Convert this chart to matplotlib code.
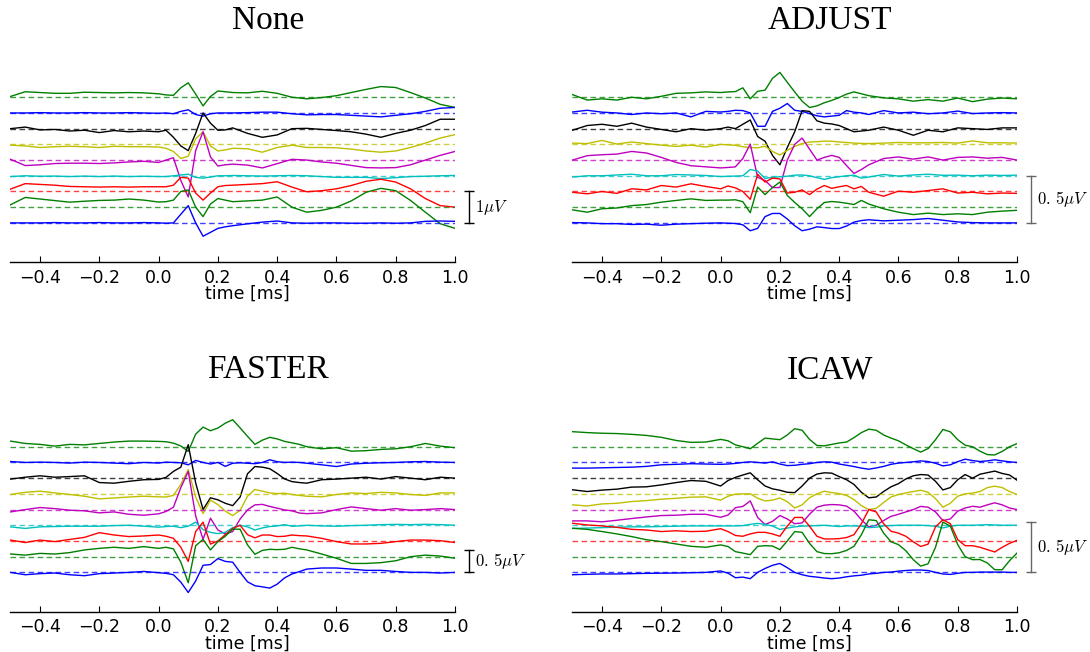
import numpy as np
import matplotlib
matplotlib.use('Agg')
import matplotlib.pyplot as plt

plt.rcParams['mathtext.fontset'] = 'cm'

# channel colours, top to bottom
colors = ['g', 'b', 'k', 'y', 'm', 'c', 'r', 'g', 'b']

# sample times [ms]
t_none = [-0.5, -0.45, -0.4, -0.35, -0.3, -0.25, -0.2, -0.15, -0.1, -0.05,
          0.0, 0.025, 0.05, 0.075, 0.1, 0.125, 0.15, 0.175, 0.2, 0.225, 0.25,
          0.3, 0.35, 0.4, 0.45, 0.5, 0.55, 0.6, 0.65, 0.7, 0.75, 0.8, 0.85, 0.9, 0.95, 1.0]

t_mid = [-0.5, -0.45, -0.4, -0.35, -0.3, -0.25, -0.2, -0.15, -0.1, -0.05,
         0.0, 0.025, 0.05, 0.075, 0.1, 0.125, 0.15, 0.175, 0.2, 0.225, 0.25,
         0.275, 0.3, 0.325, 0.35, 0.375, 0.4, 0.425, 0.45, 0.475, 0.5,
         0.55, 0.6, 0.65, 0.7, 0.75, 0.8, 0.85, 0.9, 0.95, 1.0]

t_icaw = [-0.5, -0.45, -0.4, -0.35, -0.3, -0.25, -0.2, -0.15, -0.1, -0.05,
          0.0, 0.025, 0.05, 0.075, 0.1, 0.125, 0.15, 0.175, 0.2, 0.225,
          0.25, 0.275, 0.3, 0.325, 0.35, 0.375, 0.4, 0.425, 0.45, 0.475,
          0.5, 0.525, 0.55, 0.575, 0.6, 0.625, 0.65, 0.675, 0.7, 0.725,
          0.75, 0.775, 0.8, 0.825, 0.85, 0.875, 0.9, 0.925, 0.95, 0.975, 1.0]

# averaged responses, in units of the channel spacing

# --- None ---
none_g1 = [0.05, 0.35, 0.3, 0.25, 0.25, 0.32, 0.3, 0.28, 0.3, 0.28,
           0.22, 0.15, 0.12, 0.6, 0.92, 0.2, -0.55, 0.05, 0.4, 0.35, 0.3,
           0.28, 0.38, 0.25, 0.0, -0.1, -0.02, 0.1, 0.3, 0.5, 0.68, 0.62, 0.3, -0.05, -0.45, -0.65]
none_b1 = [0.0, 0.0, 0.02, 0.0, 0.0, 0.02, 0.0, 0.0, 0.02, 0.0,
           -0.02, 0.0, -0.05, 0.1, 0.2, -0.1, -0.2, -0.05, 0.0, 0.0, 0.0,
           0.02, 0.05, 0.05, -0.05, -0.12, -0.1, -0.1, -0.15, -0.2, -0.25, -0.15, -0.05, 0.1, 0.3, 0.35]
none_k = [0.0, 0.1, -0.08, -0.05, -0.15, -0.1, -0.25, -0.12, -0.2, -0.15,
          -0.2, -0.1, -0.55, -1.1, -1.4, -0.3, 1.0, 0.35, -0.1, -0.08, 0.05,
          -0.3, -0.55, -0.4, 0.0, 0.02, -0.05, -0.12, -0.2, -0.35, -0.55, -0.3, -0.1, 0.2, 0.6, 0.6]
none_y = [-0.05, -0.1, -0.2, -0.15, -0.12, -0.15, -0.2, -0.12, -0.15, -0.15,
          -0.17, -0.25, -0.45, -0.9, -0.75, 0.35, 0.8, -0.1, -0.42, -0.35, -0.25,
          -0.28, -0.5, -0.2, -0.05, -0.2, -0.2, -0.22, -0.3, -0.42, -0.5, -0.42, -0.2, 0.08, 0.4, 0.62]
none_m = [0.05, -0.35, -0.3, -0.22, -0.2, -0.2, -0.22, -0.18, -0.12, -0.08,
          -0.15, 0.0, 0.15, -1.3, -2.35, 0.6, 1.8, 0.2, -0.38, -0.3, -0.26,
          -0.32, -0.5, -0.23, 0.05, 0.0, -0.12, -0.2, -0.34, -0.48, -0.5, -0.48, -0.3, 0.0, 0.3, 0.55]
none_c = [-0.05, 0.0, -0.03, -0.02, -0.05, -0.02, -0.05, -0.02, -0.05, -0.03,
          -0.05, -0.05, 0.0, 0.05, 0.1, -0.1, -0.15, -0.08, 0.0, 0.0, 0.02,
          0.0, -0.02, 0.0, 0.02, 0.0, -0.05, -0.1, -0.1, -0.1, -0.18, -0.12, -0.05, -0.03, 0.0, 0.02]
none_r = [0.15, 0.5, 0.45, 0.4, 0.32, 0.3, 0.28, 0.3, 0.28, 0.3,
          0.3, 0.3, 0.4, 0.9, 0.85, -0.1, -0.55, -0.1, 0.3, 0.38, 0.4,
          0.45, 0.5, 0.62, 0.28, -0.02, 0.05, 0.17, 0.38, 0.65, 0.78, 0.6, 0.17, -0.45, -0.9, -1.0]
none_g2 = [0.15, 0.62, 0.52, 0.42, 0.32, 0.38, 0.43, 0.45, 0.52, 0.45,
           0.33, 0.35, 0.45, 1.0, 1.1, 0.0, -0.6, 0.2, 0.55, 0.45, 0.35,
           0.4, 0.45, 0.65, 0.0, -0.32, -0.2, 0.0, 0.4, 0.95, 1.2, 1.05, 0.43, -0.32, -1.05, -1.35]
none_b2 = [0.0, 0.0, 0.0, 0.02, 0.0, 0.0, 0.02, 0.0, 0.0, 0.02,
           0.0, -0.02, 0.0, 0.55, 1.1, 0.0, -0.85, -0.6, -0.35, -0.25, -0.18,
           -0.06, 0.05, 0.12, 0.0, -0.02, 0.0, 0.0, -0.02, -0.02, 0.0, -0.02, 0.0, 0.1, 0.12, 0.1]

# --- ADJUST ---
adj_g1 = [0.17, -0.18, -0.1, -0.18, 0.0, -0.1, 0.06, 0.25, 0.28, 0.34,
          0.3, 0.34, 0.36, 0.6, -0.1, 0.38, 0.45, 1.2, 1.58, 0.95, 0.34,
          -0.25, -0.65, -0.55, -0.35, -0.2, -0.02, 0.2, 0.34, 0.22, 0.1,
          -0.04, -0.1, -0.25, -0.15, -0.25, -0.05, -0.28, -0.12, -0.05, -0.1]
adj_b1 = [0.06, 0.17, 0.05, 0.0, -0.1, 0.0, -0.05, 0.0, -0.25, 0.1,
          0.06, 0.1, 0.17, 0.15, 0.0, -0.85, -0.85, 0.1, 0.3, 0.6, 0.17,
          0.1, -0.04, -0.18, -0.25, -0.2, -0.15, 0.15, 0.05, 0.0, -0.1,
          0.15, 0.0, 0.05, -0.05, 0.0, 0.12, -0.04, 0.0, 0.02, 0.0]
adj_k = [-0.1, 0.2, 0.28, 0.15, 0.35, 0.1, -0.05, -0.2, 0.0, -0.1,
         0.0, 0.1, 0.0, 0.28, 0.55, -0.5, -0.8, -1.7, -2.3, -1.2, -0.2,
         1.15, 1.1, 0.5, 0.35, 0.3, 0.2, 0.0, -0.2, -0.15, -0.1,
         0.1, -0.1, -0.42, -0.1, -0.2, 0.05, 0.0, -0.05, 0.05, 0.05]
adj_y = [0.08, 0.05, 0.25, 0.02, 0.15, 0.05, -0.05, -0.13, -0.05, -0.17,
         0.0, -0.03, -0.06, -0.15, -0.21, -0.22, -0.12, -0.45, -0.68, -0.38, -0.13,
         0.05, 0.15, 0.17, 0.21, 0.2, 0.15, 0.12, 0.08, 0.06, 0.05,
         0.08, 0.12, 0.1, 0.1, 0.12, 0.08, 0.22, 0.1, 0.1, 0.08]
adj_m = [0.0, 0.28, 0.34, 0.38, 0.55, 0.45, 0.17, -0.15, -0.36, -0.43,
         -0.5, -0.47, -0.43, 0.1, 1.02, -1.1, -1.3, -1.75, -1.75, 0.0, 1.0,
         1.4, 0.7, 0.0, 0.17, 0.3, 0.17, -0.35, -0.85, -0.6, -0.3,
         0.1, 0.2, 0.06, 0.2, 0.0, 0.17, 0.2, 0.12, 0.17, 0.0]
adj_c = [-0.08, 0.0, 0.0, 0.05, 0.1, 0.0, 0.0, 0.08, 0.05, 0.02,
         -0.05, -0.03, -0.02, 0.0, 0.4, 0.3, -0.17, -0.1, -0.06, -0.03, 0.04,
         0.05, 0.0, -0.12, -0.23, -0.12, -0.06, 0.0, 0.04, -0.15, -0.08,
         0.08, -0.02, 0.05, 0.1, 0.03, 0.04, 0.0, 0.04, 0.02, 0.04]
adj_r = [-0.05, -0.15, 0.0, -0.12, 0.17, 0.1, 0.38, 0.28, 0.49, 0.32,
         0.17, 0.35, 0.23, 0.0, -0.5, 1.1, 0.6, 0.85, 0.8, -0.1, -0.05,
         0.1, -0.2, 0.15, 0.38, 0.2, 0.3, 0.38, 0.17, 0.32, -0.05,
         -0.3, 0.02, -0.05, 0.06, 0.17, -0.1, -0.05, -0.15, -0.1, -0.12]
adj_g2 = [-0.17, -0.32, -0.1, -0.05, 0.1, 0.17, 0.32, 0.43, 0.53, 0.43,
          0.45, 0.45, 0.47, 0.35, -0.35, 1.28, 0.8, 1.25, 1.6, 0.75, 0.3,
          -0.1, -0.6, -0.1, 0.3, 0.36, 0.32, 0.25, 0.17, 0.43, 0.2,
          -0.1, -0.32, -0.47, -0.38, -0.47, -0.42, -0.47, -0.32, -0.25, -0.2]
adj_b2 = [0.02, 0.0, -0.05, -0.05, -0.1, -0.08, -0.15, -0.08, -0.05, -0.02,
          0.0, -0.02, -0.04, -0.12, -0.5, -0.35, 0.4, 0.6, 0.6, 0.25, -0.18,
          -0.5, -0.4, -0.25, -0.3, -0.36, -0.36, -0.2, 0.05, 0.15, 0.2,
          0.13, 0.17, 0.21, 0.28, 0.17, 0.06, 0.02, 0.0, 0.0, 0.0]

# --- FASTER ---
fst_g1 = [0.36, 0.21, 0.15, 0.04, 0.15, 0.12, 0.21, 0.3, 0.36, 0.36,
          0.34, 0.32, 0.23, 0.05, -0.3, 0.8, 1.25, 1.02, 1.19, 1.5, 1.72,
          1.2, 0.66, 0.15, 0.42, 0.6, 0.5, 0.34, 0.25, 0.15, 0.0,
          -0.13, -0.06, -0.28, -0.25, -0.17, -0.13, 0.0, 0.21, 0.04, -0.06]
fst_b1 = [0.06, 0.0, 0.02, 0.0, -0.04, 0.02, 0.0, -0.04, -0.08, 0.0,
          -0.04, 0.02, 0.0, -0.02, -0.15, 0.13, 0.0, -0.1, 0.0, -0.25, -0.05,
          -0.02, -0.05, -0.08, 0.0, 0.17, 0.05, 0.0, 0.02, 0.0, -0.05,
          -0.15, -0.26, -0.1, -0.05, -0.02, 0.0, 0.04, 0.06, 0.02, 0.0]
fst_k = [-0.06, 0.06, 0.15, 0.06, 0.1, 0.15, -0.28, -0.32, -0.2, -0.1,
         -0.08, 0.05, 0.43, 0.7, 2.13, -0.3, -2.0, -1.25, -1.38, -1.6, -1.75,
         -1.2, 0.28, 0.74, 0.7, 0.6, 0.3, -0.05, -0.22, -0.28, -0.32,
         -0.1, -0.06, 0.0, 0.06, -0.06, 0.1, 0.0, -0.1, 0.06, 0.0]
fst_y = [-0.04, 0.1, 0.17, 0.06, -0.04, -0.15, -0.32, -0.26, -0.2, -0.15,
         -0.19, -0.2, -0.1, 0.6, 1.55, -0.2, -1.25, -0.4, -0.68, -1.1, -1.38,
         -1.05, -0.15, 0.28, 0.17, 0.06, 0.02, 0.04, -0.04, -0.1, -0.15,
         -0.19, -0.04, 0.06, 0.02, 0.1, 0.06, -0.04, -0.1, 0.06, 0.06]
fst_m = [-0.15, 0.0, 0.13, 0.06, -0.04, -0.08, -0.21, -0.15, -0.3, -0.36,
         -0.27, -0.12, 0.15, 1.4, 2.43, -0.4, -1.9, -0.55, -1.3, -1.55, -1.4,
         -0.6, -0.02, 0.3, 0.33, 0.2, 0.09, -0.02, -0.08, -0.22, -0.26,
         -0.21, 0.0, 0.17, 0.06, -0.04, 0.06, -0.04, 0.0, 0.06, 0.0]
fst_c = [-0.1, -0.2, -0.1, -0.08, -0.06, -0.06, -0.06, -0.02, 0.0, -0.06,
         -0.12, -0.08, -0.06, -0.15, -0.06, 0.2, -0.28, -0.45, -0.53, -0.45, -0.15,
         0.0, -0.1, -0.3, -0.17, -0.08, -0.04, 0.04, -0.06, -0.04, 0.0,
         -0.04, -0.06, -0.02, 0.0, 0.04, 0.06, 0.04, 0.06, 0.04, 0.0]
fst_r = [0.06, -0.1, 0.06, -0.04, 0.1, 0.23, 0.53, 0.38, 0.28, 0.32,
         0.38, 0.3, 0.17, -0.4, -1.3, 0.6, 1.2, -0.2, 0.0, 0.4, 0.8,
         1.0, 0.4, 0.2, 0.38, 0.38, 0.28, 0.3, 0.38, 0.34, 0.32,
         0.17, -0.04, -0.19, -0.19, -0.15, -0.04, 0.06, 0.06, 0.02, -0.1]
fst_g2 = [0.17, 0.1, 0.21, 0.17, 0.26, 0.43, 0.53, 0.6, 0.53, 0.64,
          0.53, 0.6, 0.5, -0.35, -1.66, 0.7, 1.1, 0.43, 0.96, 1.3, 1.75,
          1.75, 0.75, 0.15, 0.4, 0.47, 0.45, 0.47, 0.6, 0.5, 0.43,
          0.17, -0.1, -0.43, -0.43, -0.38, -0.26, 0.0, 0.1, 0.04, -0.1]
fst_b2 = [0.0, -0.15, -0.08, -0.04, -0.15, -0.21, -0.08, -0.04, 0.0, 0.06,
          -0.02, -0.06, -0.15, -0.62, -1.28, -0.55, 0.45, 0.5, 0.88, 0.7, 0.65,
          0.0, -0.6, -0.85, -0.92, -1.0, -0.75, -0.35, -0.1, 0.05, 0.21,
          0.28, 0.28, 0.21, 0.13, 0.13, 0.06, 0.0, 0.0, -0.04, 0.0]

# --- ICAW ---
icaw_g1 = [0.96, 0.9, 0.86, 0.84, 0.79, 0.72, 0.6, 0.4, 0.28, 0.3,
           0.47, 0.38, 0.12, 0.0, -0.13, 0.22, 0.55, 0.5, 0.45, 0.75,
           1.15, 1.05, 0.47, 0.08, 0.06, 0.15, 0.24, 0.3, 0.58, 0.9,
           1.12, 1.05, 0.75, 0.55, 0.38, 0.12, -0.12, -0.34, -0.12, 0.45,
           1.1, 0.95, 0.45, 0.1, 0.0, -0.28, -0.5, -0.52, -0.3, 0.0, 0.2]
icaw_b1 = [-0.36, -0.36, -0.34, -0.32, -0.3, -0.25, -0.15, -0.12, -0.08, -0.1,
           -0.12, -0.1, -0.06, 0.0, 0.04, 0.0, -0.04, 0.04, -0.1, -0.2,
           -0.18, -0.12, -0.08, 0.0, 0.04, 0.02, -0.1, -0.18, -0.26, -0.36,
           -0.43, -0.35, -0.25, -0.12, -0.04, 0.0, 0.04, 0.1, 0.06, -0.05,
           -0.22, -0.15, 0.05, 0.21, 0.12, 0.06, 0.1, 0.17, 0.1, 0.04, 0.0]
icaw_k = [-0.74, -0.85, -0.76, -0.7, -0.57, -0.55, -0.43, -0.28, -0.15, -0.2,
          -0.5, -0.15, 0.05, 0.2, 0.34, -0.1, -0.5, -0.68, -0.77, -0.9,
          -0.92, -0.5, 0.0, 0.26, 0.34, 0.32, 0.1, -0.1, -0.4, -0.9,
          -1.25, -1.2, -0.85, -0.55, -0.35, -0.05, 0.15, 0.23, 0.2, -0.2,
          -0.75, -0.6, -0.1, 0.23, 0.0, 0.25, 0.35, 0.45, 0.3, 0.2, -0.13]
icaw_y = [-0.7, -0.77, -0.64, -0.6, -0.49, -0.43, -0.34, -0.28, -0.21, -0.19,
          -0.4, -0.15, -0.02, 0.0, 0.0, -0.28, -0.45, -0.4, -0.26, -0.5,
          -0.9, -0.7, -0.25, 0.0, 0.17, 0.08, 0.02, -0.1, -0.36, -0.75,
          -1.0, -0.92, -0.55, -0.2, -0.04, 0.06, 0.15, 0.23, 0.1, -0.3,
          -0.85, -0.6, -0.15, 0.0, 0.05, 0.15, 0.4, 0.49, 0.4, 0.15, -0.04]
icaw_m = [-0.72, -0.72, -0.78, -0.68, -0.57, -0.47, -0.38, -0.36, -0.3, -0.3,
          -0.49, -0.35, 0.12, 0.2, 0.55, -0.5, -0.95, -0.75, -0.38, -0.6,
          -0.9, -0.85, -0.3, 0.15, 0.28, 0.32, 0.3, 0.22, -0.1, -0.65,
          -1.1, -1.0, -0.7, -0.43, -0.3, -0.15, 0.0, 0.2, 0.15, -0.15,
          -0.7, -0.6, -0.1, 0.1, 0.21, 0.15, 0.3, 0.43, 0.3, 0.1, 0.0]
icaw_c = [-0.2, -0.18, -0.15, -0.12, -0.1, -0.1, -0.08, -0.06, -0.04, -0.04,
          -0.04, -0.04, -0.04, -0.02, 0.06, 0.12, 0.06, -0.05, -0.26, -0.18,
          -0.1, -0.05, -0.04, -0.02, 0.0, -0.04, -0.08, -0.04, -0.04, -0.06,
          -0.15, -0.12, -0.04, -0.02, 0.0, 0.0, 0.0, 0.0, -0.02, -0.06,
          -0.17, -0.06, 0.0, 0.0, 0.0, 0.02, 0.04, 0.02, 0.0, 0.0, 0.0]
icaw_r = [1.13, 1.02, 0.96, 0.87, 0.74, 0.7, 0.6, 0.65, 0.6, 0.62,
          0.78, 0.6, 0.35, 0.3, 0.45, 0.55, 0.55, 0.45, 0.3, 0.95,
          1.5, 1.5, 0.94, 0.3, 0.13, 0.13, 0.15, 0.22, 0.4, 1.1,
          2.0, 1.85, 1.1, 0.62, 0.5, 0.3, -0.05, -0.35, -0.2, 0.9,
          1.35, 1.1, 0.09, -0.3, -0.3, -0.4, -0.55, -0.7, -0.4, -0.15, 0.04]
icaw_g2 = [1.81, 1.74, 1.6, 1.45, 1.28, 1.08, 0.96, 0.81, 0.66, 0.6,
           0.75, 0.65, 0.32, 0.23, 0.13, 0.66, 0.7, 0.68, 0.45, 1.0,
           1.6, 1.55, 0.85, 0.32, 0.2, 0.19, 0.25, 0.4, 0.66, 1.4,
           2.35, 2.3, 1.5, 0.95, 0.77, 0.38, -0.19, -0.6, -0.45, 0.6,
           2.2, 1.95, 0.77, 0.0, -0.19, -0.18, -0.4, -0.83, -0.83, -0.25, 0.23]
icaw_b2 = [-0.15, -0.12, -0.1, -0.1, -0.08, -0.06, -0.05, -0.04, -0.02, 0.0,
           0.09, -0.05, -0.34, -0.3, -0.4, 0.0, 0.25, 0.45, 0.57, 0.3,
           0.0, -0.15, -0.25, -0.3, -0.36, -0.4, -0.36, -0.28, -0.22, -0.18,
           -0.1, -0.06, 0.0, 0.02, 0.08, 0.12, 0.15, 0.15, 0.12, 0.0,
           -0.1, -0.13, -0.06, 0.0, 0.0, 0.02, 0.02, 0.02, 0.02, 0.0, 0.0]

titles = ['None', 'ADJUST', 'FASTER', 'ICAW']
times = [t_none, t_mid, t_mid, t_icaw]
traces = [
    [none_g1, none_b1, none_k, none_y, none_m, none_c, none_r, none_g2, none_b2],
    [adj_g1, adj_b1, adj_k, adj_y, adj_m, adj_c, adj_r, adj_g2, adj_b2],
    [fst_g1, fst_b1, fst_k, fst_y, fst_m, fst_c, fst_r, fst_g2, fst_b2],
    [icaw_g1, icaw_b1, icaw_k, icaw_y, icaw_m, icaw_c, icaw_r, icaw_g2, icaw_b2],
]
# microvolts per channel spacing, and scale bar size
uv_per_unit = [0.5, 0.5 / 3, 0.35, 0.155]
bar_uv = [1.0, 0.5, 0.5, 0.5]
bar_labels = [r'$1\mu V$', r'$0.\,5\mu V$', r'$0.\,5\mu V$', r'$0.\,5\mu V$']
bar_colors = ['k', '0.4', 'k', '0.4']

W, H = 1090.0, 652.0
fig = plt.figure(figsize=(W / 100, H / 100), dpi=100)

# pixel layout: left edge, bottom spine, title centre, title baseline
panels = [(10.4, 262.0, 268, 29), (572.4, 262.0, 830, 29),
          (10.4, 611.5, 268, 378.5), (572.4, 611.5, 830, 378.5)]
ax_w, ax_h = 444.6, 207.0

for k, (left, bottom, tx, ty) in enumerate(panels):
    ax = fig.add_axes([left / W, (H - bottom) / H, ax_w / W, ax_h / H])
    t = np.array(times[k])
    for i, (y, c) in enumerate(zip(traces[k], colors)):
        ax.plot(t, np.array(y) - i, color=c, lw=1.0)
        ax.axhline(-i, color=c, ls='--', lw=1.0, alpha=0.75, dashes=(4, 2.5))

    ax.set_xlim(-0.5, 1.0)
    ax.set_ylim(-10.49, 2.69)
    for s in ['top', 'left', 'right']:
        ax.spines[s].set_visible(False)
    ax.spines['bottom'].set_linewidth(1.0)
    ax.set_yticks([])
    ax.set_xticks([-0.4, -0.2, 0.0, 0.2, 0.4, 0.6, 0.8, 1.0])
    ax.tick_params(axis='x', direction='in', length=4, width=0.8, labelsize=12.5, pad=5)
    ax.set_xlabel('time [ms]', fontsize=12.5)
    ax.xaxis.set_label_coords(0.534, -0.112)

    # scale bar next to the bottom channel
    length = bar_uv[k] / uv_per_unit[k]
    xb = 1.047
    ax.plot([xb, xb], [-8, -8 + length], color=bar_colors[k], lw=1.0, clip_on=False)
    ax.plot([xb, xb], [-8, -8 + length], ls='none', marker='_', ms=7, mew=1.0,
            color=bar_colors[k], clip_on=False)
    ax.text(xb + 0.02, -8 + length / 2, bar_labels[k], fontsize=12,
            ha='left', va='center', clip_on=False)

    fig.text(tx / W, 1 - ty / H, titles[k], ha='center', va='baseline',
             fontsize=24, family=['Liberation Serif', 'DejaVu Serif'])

fig.savefig('out.png', dpi=100)
